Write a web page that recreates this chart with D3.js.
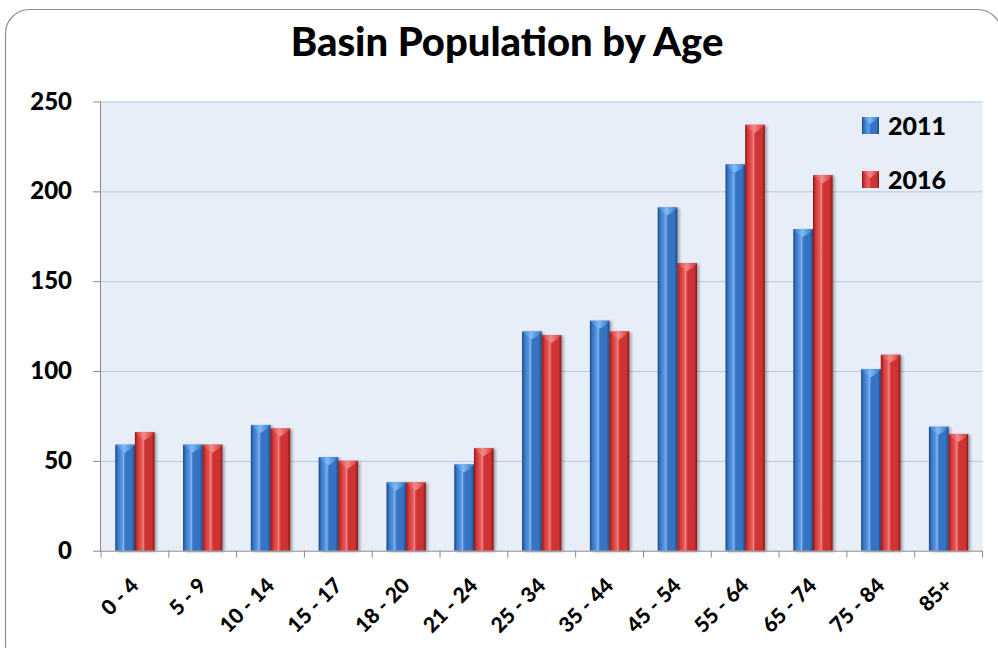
<!DOCTYPE html>
<html>
<head>
<meta charset="utf-8">
<script src="https://cdn.jsdelivr.net/npm/d3@7"></script>
<style>
  html, body { margin: 0; padding: 0; background: #ffffff; }
  svg { display: block; }
  text { font-family: Lato, "Open Sans", sans-serif; font-weight: 900; fill: #000; }
</style>
</head>
<body>
<svg id="chart" width="998" height="648"></svg>
<script>
// Population counts by age group
const categories = ["0 - 4", "5 - 9", "10 - 14", "15 - 17", "18 - 20", "21 - 24", "25 - 34",
                    "35 - 44", "45 - 54", "55 - 64", "65 - 74", "75 - 84", "85+"];
const seriesNames = ["2011", "2016"];
const pop2011 = [59, 59, 70, 52, 38, 48, 122, 128, 191, 215, 179, 101, 69];
const pop2016 = [66, 59, 68, 50, 38, 57, 120, 122, 160, 237, 209, 109, 65];
const yTicks = [0, 50, 100, 150, 200, 250];
const chartTitle = "Basin Population by Age";

const svg = d3.select("#chart");
const plot = { left: 101, right: 982.5, top: 101.5, bottom: 550.7 };

// Outer rounded frame
svg.append("rect")
  .attr("x", 5.5).attr("y", 9.5)
  .attr("width", 996).attr("height", 660)
  .attr("rx", 24).attr("ry", 24)
  .attr("fill", "#fff").attr("stroke", "#8c8c8c").attr("stroke-width", 1.2);

// Scales
const x = d3.scaleBand().domain(categories).range([plot.left, plot.right]).padding(0);
const bw = x.bandwidth();
const xs = d3.scaleBand().domain(seriesNames).range([bw * 0.21, bw * 0.79]).padding(0);
const y = d3.scaleLinear().domain([0, 250]).range([plot.bottom, plot.top]);

// Gradients for the cylinder-look bars
const defs = svg.append("defs");
const palettes = {
  "2011": { dark: "#1c4680", main: "#3673c4", light: "#5f9fe6", cap: "#7dbaf5" },
  "2016": { dark: "#861818", main: "#cf3333", light: "#ec6262", cap: "#f38a8a" }
};
Object.entries(palettes).forEach(([k, p]) => {
  const g = defs.append("linearGradient").attr("id", "body" + k)
    .attr("x1", "0%").attr("x2", "100%").attr("y1", "0%").attr("y2", "0%");
  [[0, p.dark], [0.12, p.main], [0.38, p.light], [0.55, p.main], [0.85, p.main], [1, p.dark]]
    .forEach(([o, c]) => g.append("stop").attr("offset", o).attr("stop-color", c));
  const c = defs.append("linearGradient").attr("id", "cap" + k)
    .attr("x1", "0%").attr("x2", "100%").attr("y1", "0%").attr("y2", "0%");
  [[0, p.main], [0.45, p.cap], [1, p.main]]
    .forEach(([o, col]) => c.append("stop").attr("offset", o).attr("stop-color", col));
});
const shadow = defs.append("filter").attr("id", "shadow")
  .attr("x", "-20%").attr("y", "-5%").attr("width", "160%").attr("height", "115%");
shadow.append("feGaussianBlur").attr("in", "SourceAlpha").attr("stdDeviation", 1.6);
shadow.append("feOffset").attr("dx", 2).attr("dy", 1).attr("result", "off");
shadow.append("feComponentTransfer").append("feFuncA").attr("type", "linear").attr("slope", 0.35);
const merge = shadow.append("feMerge");
merge.append("feMergeNode");
merge.append("feMergeNode").attr("in", "SourceGraphic");

// Plot background
svg.append("rect")
  .attr("x", plot.left).attr("y", plot.top)
  .attr("width", plot.right - plot.left).attr("height", plot.bottom - plot.top)
  .attr("fill", "#e7eef8");

// Gridlines
svg.append("g").selectAll("line").data(yTicks.filter(d => d > 0)).join("line")
  .attr("x1", plot.left).attr("x2", plot.right)
  .attr("y1", d => y(d) + 0.5).attr("y2", d => y(d) + 0.5)
  .attr("stroke", "#b3c9e6").attr("stroke-width", 1);

// Bars
const rows = categories.map((c, i) => ({ cat: c, values: [
  { key: "2011", v: pop2011[i] }, { key: "2016", v: pop2016[i] }] }));

const groups = svg.append("g").selectAll("g").data(rows).join("g")
  .attr("transform", d => `translate(${x(d.cat)},0)`);

const bars = groups.selectAll("g").data(d => d.values).join("g")
  .attr("filter", "url(#shadow)");

bars.append("rect")
  .attr("x", d => xs(d.key)).attr("width", xs.bandwidth())
  .attr("y", d => y(d.v)).attr("height", d => y(0) - y(d.v))
  .attr("fill", d => `url(#body${d.key})`);

// thin specular line along each bar
bars.append("line")
  .attr("x1", d => xs(d.key) + xs.bandwidth() * 0.42)
  .attr("x2", d => xs(d.key) + xs.bandwidth() * 0.42)
  .attr("y1", d => y(d.v) + 6).attr("y2", y(0))
  .attr("stroke", "#ffffff").attr("stroke-opacity", 0.35).attr("stroke-width", 1);

// bevelled top cap
bars.append("path")
  .attr("d", d => {
    const x0 = xs(d.key), w = xs.bandwidth(), t = y(d.v);
    return `M${x0},${t} L${x0 + w},${t} L${x0 + w * 0.8},${t + 4} L${x0 + w * 0.5},${t + 8} L${x0 + w * 0.2},${t + 4} Z`;
  })
  .attr("fill", d => `url(#cap${d.key})`);

// Y axis
const yAxis = svg.append("g");
yAxis.append("line")
  .attr("x1", plot.left - 0.5).attr("x2", plot.left - 0.5)
  .attr("y1", plot.top).attr("y2", plot.bottom + 0.5)
  .attr("stroke", "#8a8a8a");
yAxis.selectAll("line.tick").data(yTicks).join("line").attr("class", "tick")
  .attr("x1", plot.left - 8).attr("x2", plot.left)
  .attr("y1", d => y(d) + 0.5).attr("y2", d => y(d) + 0.5)
  .attr("stroke", "#8a8a8a");
yAxis.selectAll("text").data(yTicks).join("text")
  .attr("x", 72).attr("y", d => y(d) + 8)
  .attr("text-anchor", "end")
  .style("font-size", "24px")
  .text(d => d);

// X axis
const xAxis = svg.append("g");
xAxis.append("line")
  .attr("x1", plot.left - 0.5).attr("x2", plot.right)
  .attr("y1", plot.bottom + 0.5).attr("y2", plot.bottom + 0.5)
  .attr("stroke", "#8a8a8a");
const boundaries = categories.map(c => x(c)).concat([plot.right]);
xAxis.selectAll("line.tick").data(boundaries).join("line").attr("class", "tick")
  .attr("x1", d => d).attr("x2", d => d)
  .attr("y1", plot.bottom).attr("y2", plot.bottom + 7)
  .attr("stroke", "#8a8a8a");
xAxis.selectAll("text").data(categories).join("text")
  .attr("transform", d => `translate(${x(d) + bw / 2 + 5},${587}) rotate(-45)`)
  .attr("text-anchor", "end")
  .style("font-size", "21px")
  .text(d => d);

// Title
svg.append("text")
  .attr("x", 507).attr("y", 56)
  .attr("text-anchor", "middle")
  .style("font-size", "40px")
  .text(chartTitle);

// Legend
const legend = svg.append("g").selectAll("g").data(seriesNames).join("g")
  .attr("transform", (d, i) => `translate(862,${117 + i * 54})`);
legend.append("rect")
  .attr("width", 17).attr("height", 17)
  .attr("fill", d => `url(#body${d})`);
legend.append("path")
  .attr("d", "M0,0 L17,0 L8.5,7 Z")
  .attr("fill", d => `url(#cap${d})`);
legend.append("text")
  .attr("x", 26).attr("y", 18)
  .style("font-size", "25px")
  .text(d => d);
</script>
</body>
</html>
